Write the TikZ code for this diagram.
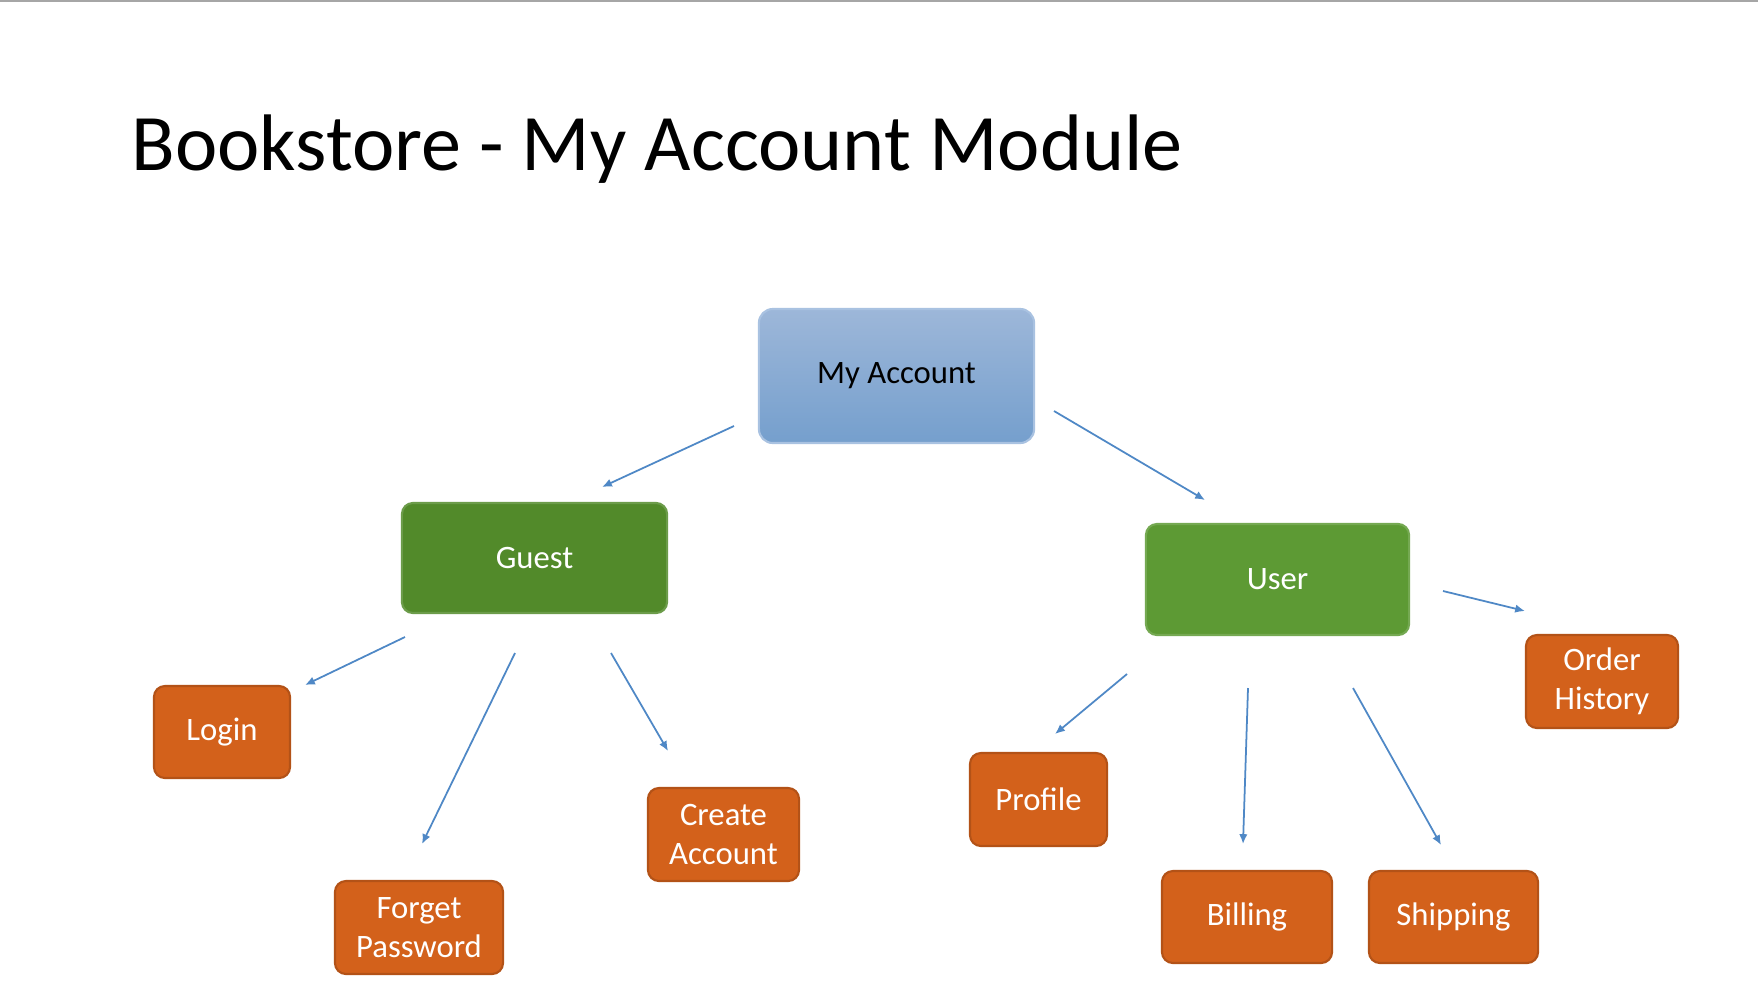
\documentclass[tikz,border=0pt]{standalone}
\usepackage{fontspec}
\setmainfont{Carlito}
\usetikzlibrary{arrows.meta, calc, positioning}
\definecolor{acctop}{HTML}{9DB7D9}
\definecolor{accbot}{HTML}{759FCD}
\definecolor{accline}{HTML}{A9C2E1}
\definecolor{gstgreen}{HTML}{528A2A}
\definecolor{usrgreen}{HTML}{5D9A34}
\definecolor{subor}{HTML}{D3611B}
\definecolor{arrblue}{HTML}{4F88C6}
\tikzset{boxt/.style={rounded corners=0.11cm, inner sep=0pt, align=center,
    font=\fontsize{9.3}{11.2}\selectfont}}
\tikzset{acct/.style={boxt, top color=acctop, bottom color=accbot, draw=accline,
    line width=0.6pt, text=black, rounded corners=0.14cm}}
\tikzset{grnb/.style={boxt, fill=#1, draw=#1!85!white, line width=0.6pt, text=white}}
\tikzset{orgb/.style={boxt, fill=subor, draw=subor!85!black, line width=0.6pt, text=white}}
\tikzset{arr/.style={draw=arrblue, line width=0.5pt, -{Latex[length=2.8pt, width=2.4pt]}}}

\begin{document}
\begin{tikzpicture}[x=0.01cm, y=-0.01cm]
    \useasboundingbox (0,0) rectangle (1758,981);
    \fill[white] (0,0) rectangle (1758,981);
    \draw[black!35, line width=0.8pt] (0,1) -- (1758,1);

    \node[anchor=base west, inner sep=0pt, font=\fontsize{22.8}{27}\selectfont] (ttl) at (131,170)
        {Bookstore - My Account Module};

    \node[acct, minimum width=2.75cm, minimum height=1.34cm] (acc) at (896.5,376) {My Account};
    \node[grnb=gstgreen, minimum width=2.65cm, minimum height=1.10cm] (gst) at (534.5,558) {Guest};
    \node[grnb=usrgreen, minimum width=2.63cm, minimum height=1.11cm] (usr) at (1277.5,579.5) {User};

    \node[orgb, minimum width=1.36cm, minimum height=0.92cm] (lgn) at (222,732) {Login};
    \node[orgb, minimum width=1.68cm, minimum height=0.93cm] (fgt) at (419,927.5) {Forget\\Password};
    \node[orgb, minimum width=1.51cm, minimum height=0.93cm] (crt) at (723.5,834.5) {Create\\Account};
    \node[orgb, minimum width=1.37cm, minimum height=0.93cm] (prf) at (1038.5,799.5) {Profile};
    \node[orgb, minimum width=1.70cm, minimum height=0.92cm] (bil) at (1247,917) {Billing};
    \node[orgb, minimum width=1.69cm, minimum height=0.92cm] (shp) at (1453.5,917) {Shipping};
    \node[orgb, minimum width=1.52cm, minimum height=0.93cm] (ord) at (1602,681.5) {Order\\History};

    \path
    ($(acc)+(-162.5,50)$) edge[arr] ($(gst)+(67.5,-71)$)
    ($(acc)+(157.5,35)$) edge[arr] ($(usr)+(-72.5,-79.5)$)
    ($(gst)+(-129.5,79)$) edge[arr] ($(lgn)+(83,-47)$)
    ($(gst)+(-19.5,95)$) edge[arr] ($(fgt)+(3,-83.5)$)
    ($(gst)+(76.5,95)$) edge[arr] ($(crt)+(-55.5,-83.5)$)
    ($(usr)+(-150.5,94.5)$) edge[arr] ($(prf)+(16.5,-65.5)$)
    ($(usr)+(-29.5,108.5)$) edge[arr] ($(bil)+(-4,-73)$)
    ($(usr)+(75.5,108.5)$) edge[arr] ($(shp)+(-12.5,-72)$)
    ($(usr)+(165.5,11.5)$) edge[arr] ($(ord)+(-77,-70.5)$);
\end{tikzpicture}
\end{document}
